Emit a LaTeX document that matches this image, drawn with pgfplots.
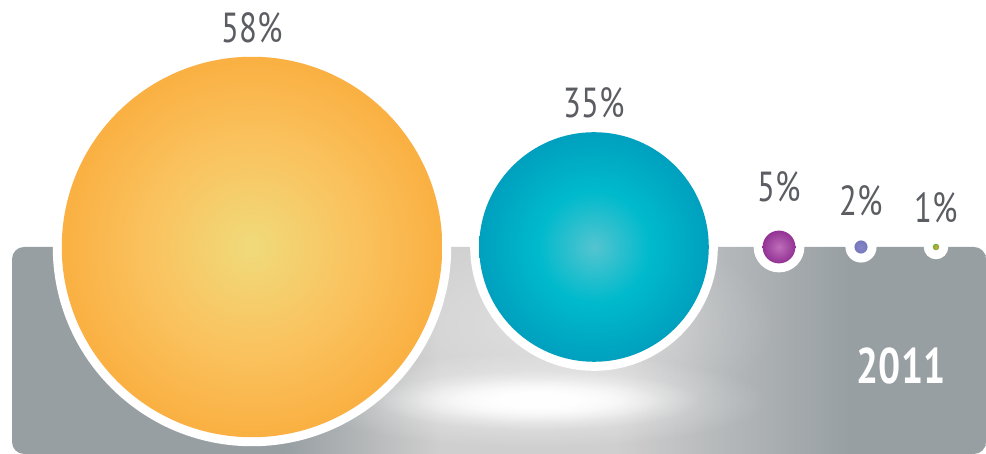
\documentclass[border=0pt]{standalone}
\usepackage{fontspec}
\setmainfont{PT Sans}[FakeStretch=0.78]
\usepackage{pgfplots}
\usepackage{pgfplotstable}
\usetikzlibrary{fadings}
\pgfplotsset{compat=1.18}

\definecolor{labgray}{RGB}{92,93,98}
\definecolor{bgg}{RGB}{152,159,162}
\definecolor{bgm}{RGB}{178,182,184}
\definecolor{bgl}{RGB}{208,207,207}
\definecolor{oIn}{RGB}{240,218,122}
\definecolor{oMid}{RGB}{250,194,94}
\definecolor{oOut}{RGB}{250,176,66}
\definecolor{tIn}{RGB}{84,196,208}
\definecolor{tMid}{RGB}{0,186,204}
\definecolor{tOut}{RGB}{0,160,190}
\definecolor{pIn}{RGB}{190,110,186}
\definecolor{pOut}{RGB}{146,50,148}
\definecolor{bIn}{RGB}{132,134,200}
\definecolor{bOut}{RGB}{118,120,188}
\definecolor{gIn}{RGB}{214,166,60}
\definecolor{gOut}{RGB}{112,176,58}

\pgfdeclareradialshading{shA}{\pgfpoint{0bp}{0bp}}{color(0bp)=(oIn); color(14bp)=(oMid); color(25bp)=(oOut); color(50bp)=(oOut)}
\pgfdeclareradialshading{shB}{\pgfpoint{0bp}{0bp}}{color(0bp)=(tIn); color(12bp)=(tMid); color(25bp)=(tOut); color(50bp)=(tOut)}
\pgfdeclareradialshading{shC}{\pgfpoint{0bp}{0bp}}{color(0bp)=(pIn); color(25bp)=(pOut); color(50bp)=(pOut)}
\pgfdeclareradialshading{shD}{\pgfpoint{0bp}{0bp}}{color(0bp)=(bIn); color(25bp)=(bOut); color(50bp)=(bOut)}
\pgfdeclareradialshading{shE}{\pgfpoint{0bp}{0bp}}{color(0bp)=(gIn); color(25bp)=(gOut); color(50bp)=(gOut)}
\pgfdeclarehorizontalshading{bgsh}{100bp}{color(0bp)=(bgg); color(39bp)=(bgg); color(47bp)=(bgl); color(56bp)=(bgl); color(62bp)=(bgm); color(68bp)=(bgg); color(100bp)=(bgg)}
\tikzfading[name=softglow, inner color=transparent!0, outer color=transparent!100]

\pgfplotstableread{
x   y   v   c  ly
252 207 58  1  426.5
594 207 35  2  351.5
779 207 5   3  267.5
861 207 2   4  253
936 207 1   5  246.5
}\bubbles

\begin{document}
\begin{tikzpicture}
\begin{axis}[
  width=493pt, height=227pt, scale only axis,
  xmin=0, xmax=986, ymin=0, ymax=454,
  hide axis, clip=false,
  /pgf/number format/assume math mode=true,
]
\path (rel axis cs:0,0) rectangle (rel axis cs:1,1);
% background panel
\shade[shading=bgsh, rounded corners=6pt] (axis cs:12,0) rectangle (axis cs:986,207);
\begin{scope}
\clip[rounded corners=6pt] (axis cs:12,0) rectangle (axis cs:986,207);
\fill[white, opacity=0.35, path fading=softglow] (axis cs:560,130) ellipse[x radius=110pt, y radius=50pt];
\fill[white, opacity=0.6, path fading=softglow] (axis cs:537,54) ellipse[x radius=115pt, y radius=24pt];
\fill[white, path fading=softglow] (axis cs:537,54) ellipse[x radius=82pt, y radius=15pt];
\fill[white, path fading=softglow] (axis cs:537,54) ellipse[x radius=64pt, y radius=11pt];
\fill[white, path fading=softglow] (axis cs:537,54) ellipse[x radius=48pt, y radius=8pt];
\end{scope}
% bubbles
\addplot[scatter, only marks, mark=*, mark size=0pt, mark options={draw=none, fill=none},
  visualization depends on={\thisrow{v} \as \val},
  visualization depends on={\thisrow{c} \as \cidx},
  scatter/@pre marker code/.code={%
    \pgfmathsetmacro\R{\val*1.64}%
    \pgfmathtruncatemacro\ci{\cidx}%
    \edef\shd{sh\ifcase\ci\or A\or B\or C\or D\or E\fi}%
    \fill[white, draw=none] (0,0) circle[radius=\R pt+4.5pt];%
    \shade[shading=\shd, draw=none] (0,0) circle[radius=\R pt];%
  },
  scatter/@post marker code/.code={},
] table[x=x, y=y] {\bubbles};
% labels
\addplot[only marks, mark=none, point meta=explicit,
  nodes near coords={\pgfmathprintnumber{\pgfplotspointmeta}\%},
  nodes near coords style={anchor=center, font=\fontsize{21pt}{24pt}\selectfont, text=labgray},
] table[x=x, y=ly, meta=v] {\bubbles};
% year
\node[font=\fontsize{25pt}{28pt}\selectfont\bfseries, text=white] at (axis cs:901,88) {2011};
\end{axis}
\end{tikzpicture}
\end{document}
